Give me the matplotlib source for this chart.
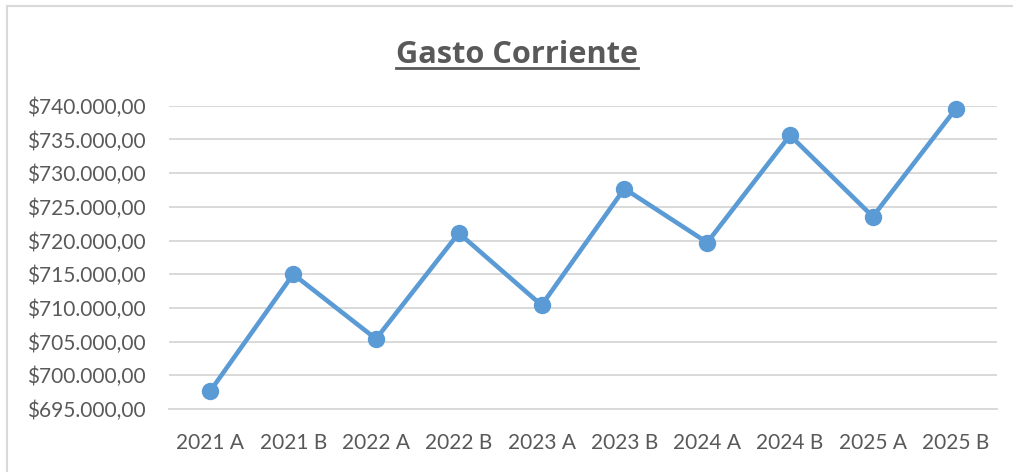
import matplotlib
matplotlib.use("Agg")
import matplotlib.pyplot as plt
from matplotlib.lines import Line2D
from matplotlib.ticker import FuncFormatter, MultipleLocator

# Semester labels and current spending values
periods = ["2021 A", "2021 B", "2022 A", "2022 B", "2023 A",
           "2023 B", "2024 A", "2024 B", "2025 A", "2025 B"]
gasto = [697700, 715000, 705400, 721100, 710400,
         727700, 719700, 735600, 723550, 739500]

title_text = "Gasto Corriente"
y_min, y_max, y_step = 695000, 740000, 5000

W, H, DPI = 1013, 472, 100
TEXT = "#595959"
GRID = "#D9D9D9"
LINE = "#5B9BD5"
FONT = "Lato"
TITLE_FONT = "Open Sans"

fig = plt.figure(figsize=(W / DPI, H / DPI), dpi=DPI)
fig.patch.set_facecolor("white")

# chart-area frame (only top and left edges are inside the canvas)
fig.add_artist(Line2D([7 / W, 7 / W], [0, 1 - 6 / H], transform=fig.transFigure,
                      color=GRID, lw=1.5))
fig.add_artist(Line2D([7 / W, 1], [1 - 6 / H, 1 - 6 / H], transform=fig.transFigure,
                      color=GRID, lw=1.5))

left, right = 169 / W, 997 / W
top, bottom = 1 - 105.7 / H, 1 - 409 / H
ax = fig.add_axes([left, bottom, right - left, top - bottom])

x = list(range(len(periods)))
ax.plot(x, gasto, color=LINE, lw=3.3, marker="o", markersize=11.5,
        markerfacecolor=LINE, markeredgecolor=LINE, solid_capstyle="round",
        zorder=3, clip_on=False)

ax.set_xlim(-0.5, len(periods) - 0.5)
ax.set_ylim(y_min, y_max)
ax.yaxis.set_major_locator(MultipleLocator(y_step))


def money(v, pos):
    s = f"{v:,.2f}"
    s = s.replace(",", "X").replace(".", ",").replace("X", ".")
    return "$" + s


ax.yaxis.set_major_formatter(FuncFormatter(money))
ax.set_xticks(x)
ax.set_xticklabels(periods)

ax.grid(axis="y", color=GRID, lw=1.4)
ax.set_axisbelow(True)
for side in ("top", "right", "left"):
    ax.spines[side].set_visible(False)
ax.spines["bottom"].set_color(GRID)
ax.spines["bottom"].set_linewidth(1.4)

ax.tick_params(axis="y", length=0, pad=16.5, labelsize=15, labelcolor=TEXT)
ax.tick_params(axis="x", length=0, pad=17, labelsize=15, labelcolor=TEXT)
for lab in ax.get_xticklabels() + ax.get_yticklabels():
    lab.set_fontfamily(FONT)

# underlined bold title, sized to span about 242 px
t = fig.text(517 / W, 1 - 63 / H, title_text, ha="center", va="baseline",
             fontsize=20, fontweight="bold", color=TEXT, family=TITLE_FONT)
fig.canvas.draw()
renderer = fig.canvas.get_renderer()
bb = t.get_window_extent(renderer)
t.set_fontsize(20 * 242 / bb.width)
fig.canvas.draw()
bb = t.get_window_extent(renderer)
uy = 1 - 68 / H
fig.add_artist(Line2D([bb.x0 / W, bb.x1 / W], [uy, uy], transform=fig.transFigure,
                      color=TEXT, lw=2.0))

fig.savefig("out.png", dpi=DPI, facecolor="white")
